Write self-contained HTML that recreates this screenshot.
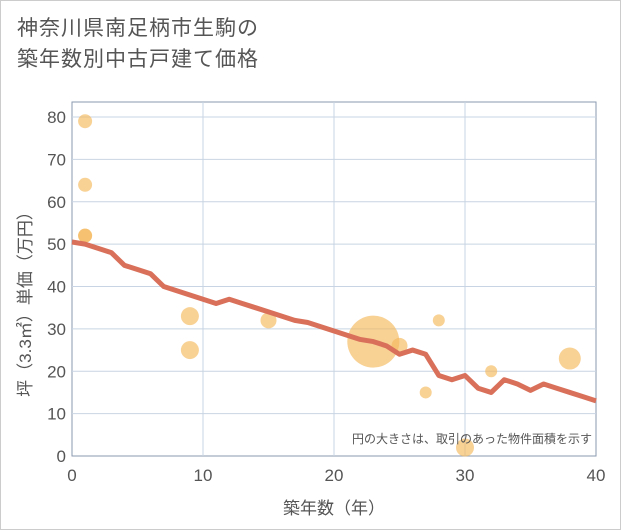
<!DOCTYPE html>
<html><head><meta charset="utf-8"><style>
body{margin:0;background:#fff;}
#wrap{width:619px;height:528px;border:1px solid #ccc;position:relative;font-family:"Liberation Sans","Noto Sans CJK JP",sans-serif;overflow:hidden;}
#title{position:absolute;left:16px;top:12px;font-size:21px;line-height:31px;color:#555;letter-spacing:1px;}
</style></head><body>
<div id="wrap">
<div id="title">神奈川県南足柄市生駒の<br>築年数別中古戸建て価格</div>
<svg id="chart" width="621" height="530" style="position:absolute;left:-1px;top:-1px"></svg>
</div>
<script>
const xTicks=[0,10,20,30,40];
const yTicks=[0,10,20,30,40,50,60,70,80];
const lineX=[0,1,2,3,4,5,6,7,8,9,10,11,12,13,14,15,16,17,18,19,20,21,22,23,24,25,26,27,28,29,30,31,32,33,34,35,36,37,38,39,40];
const lineY=[50.5,50,49,48,45,44,43,40,39,38,37,36,37,36,35,34,33,32,31.5,30.5,29.5,28.5,27.5,27,26,24,25,24,19,18,19,16,15,18,17,15.5,17,16,15,14,13];
const bubX=[1,1,1,1,9,9,15,23,25,27,28,30,32,38];
const bubY=[79,64,52,52,33,25,32,27,26,15,32,2,20,23];
const bubR=[7,7,7,7,9,9,8,26,8,6,6,9,6,11];
const NS="http://www.w3.org/2000/svg";
const svg=document.getElementById('chart');
const L=72,R=596,T=102,B=456;
const xs=v=>L+(R-L)*v/40;
const ys=v=>B-(B-117)*v/80;
function mk(t,a){const e=document.createElementNS(NS,t);for(const k in a)e.setAttribute(k,a[k]);svg.appendChild(e);return e;}
const bg=mk('rect',{x:L,y:T,width:R-L,height:B-T,fill:'#fff',stroke:'#8a9ab0','stroke-width':1});


xTicks.forEach(v=>{
 if(v>0&&v<40){const g=mk('line',{x1:xs(v),x2:xs(v),y1:T,y2:B,stroke:'#c8d4e3'});
 
 }
 const t=mk('text',{x:xs(v),y:481,'text-anchor':'middle','font-size':17,fill:'#555'});t.textContent=v;
 
 
});
yTicks.forEach(v=>{
 if(v>0){const g=mk('line',{x1:L,x2:R,y1:ys(v),y2:ys(v),stroke:'#c8d4e3'});
 
 }
 const t=mk('text',{x:66,y:ys(v)+6,'text-anchor':'end','font-size':17,fill:'#555'});t.textContent=v;
 
 
});
bubX.forEach((x,i)=>{
 const c=mk('circle',{cx:xs(x),cy:ys(bubY[i]),r:bubR[i],fill:'#f5b95c','fill-opacity':0.65});
 
 
});
const pl=mk('polyline',{points:lineX.map((x,i)=>xs(x)+','+ys(lineY[i])).join(' '),fill:'none',stroke:'#d9705a','stroke-width':5,'stroke-linejoin':'round'});


const note=mk('text',{x:592,y:443,'text-anchor':'end','font-size':12,fill:'#555'});note.textContent='円の大きさは、取引のあった物件面積を示す';


const xt=mk('text',{x:334,y:514,'text-anchor':'middle','font-size':17,fill:'#555'});xt.textContent='築年数（年）';


const yt=mk('text',{x:0,y:0,'text-anchor':'middle','font-size':17,fill:'#555',transform:'translate(31,300) rotate(-90)'});yt.textContent='坪（3.3㎡）単価（万円）';


</script>
</body></html>
